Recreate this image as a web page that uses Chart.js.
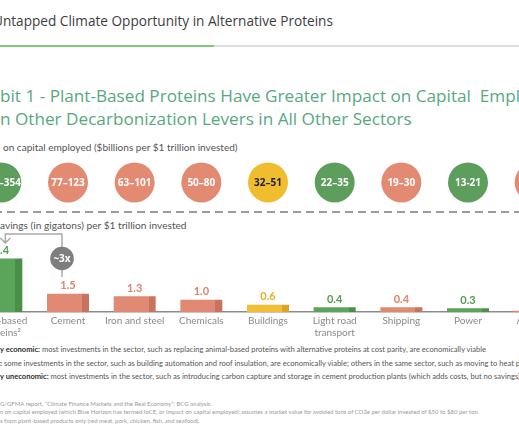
<!DOCTYPE html>
<html><head><meta charset="utf-8">
<script src="https://cdn.jsdelivr.net/npm/chart.js@4.4.1/dist/chart.umd.min.js"></script>
<style>
html,body{margin:0;padding:0;width:519px;height:433px;overflow:hidden;background:#fff;}
body{position:relative;font-family:"Lato",sans-serif;}
.t{position:absolute;white-space:nowrap;line-height:1;}
#hdr{font-family:"Open Sans",sans-serif;font-size:15px;color:#3d3d3d;}
#rule1{position:absolute;left:0;top:45px;width:214px;height:2px;background:#7dcc73;}
#rule2{position:absolute;left:214px;top:45px;width:305px;height:2px;background:#dedede;}
.ti{font-family:"Open Sans",sans-serif;font-size:20px;color:#58a87f;}
.sub{font-size:11px;color:#555;}
.lg{font-size:8px;color:#555;}
.lg b{color:#2e2e2e;}
.fn{font-size:6px;color:#9a9a9a;}
#wrap{position:absolute;left:-32px;top:150px;width:600px;height:190px;}
</style></head>
<body>
<div class="t" id="hdr" data-x="-7" data-cy="21" data-w="340">Untapped Climate Opportunity in Alternative Proteins</div>
<div id="rule1"></div><div id="rule2"></div>
<div class="t ti" id="ti1" data-x="0" data-cy="96" data-same="ti2">bit 1 - Plant-Based Proteins Have Greater Impact on Capital&nbsp; Employed</div>
<div class="t ti" id="ti2" data-x="0" data-cy="119" data-w="412">n Other Decarbonization Levers in All Other Sectors</div>
<div class="t sub" id="s1" data-x="3" data-cy="147" data-w="235">on capital employed ($billions per $1 trillion invested)</div>
<div class="t sub" id="s2" data-x="0" data-cy="225" data-w="187">avings (in gigatons) per $1 trillion invested</div>
<div id="wrap"><canvas id="c" width="600" height="190"></canvas></div>
<div class="t lg" id="l1" data-x="0" data-cy="350" data-w="487"><b>y economic:</b> most investments in the sector, such as replacing animal-based proteins with alternative proteins at cost parity, are economically viable</div>
<div class="t lg" id="l2" data-x="0" data-cy="363.3" data-same="l1"><b>:</b> some investments in the sector, such as building automation and roof insulation, are economically viable; others in the same sector, such as moving to heat pumps, are not</div>
<div class="t lg" id="l3" data-x="0" data-cy="376.7" data-same="l1"><b>y uneconomic:</b> most investments in the sector, such as introducing carbon capture and storage in cement production plants (which adds costs, but no savings), are not</div>
<div class="t fn" id="f1" data-x="0" data-cy="404" data-same="f2">G/GFMA report, “Climate Finance Markets and the Real Economy”; BCG analysis.</div>
<div class="t fn" id="f2" data-x="0" data-cy="412.3" data-w="480">n on capital employed (which Blue Horizon has termed IoCE, or impact on capital employed) assumes a market value for avoided tons of CO2e per dollar invested of $50 to $80 per ton.</div>
<div class="t fn" id="f3" data-x="0" data-cy="420.5" data-same="f2">s from plant-based products only (red meat, pork, chicken, fish, and seafood).</div>
<script>
// ---- data ----
const categories = [["Plant-based","proteins²"],"Cement","Iron and steel","Chemicals","Buildings",["Light road","transport"],"Shipping","Power","Aviation"];
const savings = [4.4, 1.5, 1.3, 1.0, 0.6, 0.4, 0.4, 0.3, 0.1];
const returnRanges = ["221–354","77–123","63–101","50–80","32–51","22–35","19–30","13-21","8–13"];
const viability = ["economic","uneconomic","uneconomic","uneconomic","mixed","economic","uneconomic","economic","uneconomic"];
const multipleLabel = "~3x";

// ---- styles ----
const COL = {
  economic:  {fill:'#5ba55a', dark:'#4a8f4a', text:'#4f9d4e', circle:'#5e9e5c', label:'#ffffff'},
  uneconomic:{fill:'#e08a73', dark:'#c8735e', text:'#e0836a', circle:'#e38a72', label:'#ffffff'},
  mixed:     {fill:'#f2be36', dark:'#d8a42a', text:'#e6ae25', circle:'#f0bd2f', label:'#222222'}
};
const CIRCLE_ROW = 0.8;
const BAR_PCT = 0.63;

// ---- text fitting ----
function place(el){
  const x = parseFloat(el.dataset.x||0);
  el.style.left = x+'px';
  if (el.dataset.w){
    const fs = parseFloat(getComputedStyle(el).fontSize);
    const w = el.getBoundingClientRect().width;
    el.style.fontSize = (fs*parseFloat(el.dataset.w)/w)+'px';
  }
}
const els=[...document.querySelectorAll('.t')];
els.forEach(el=>{ if(el.dataset.w) place(el); });
els.forEach(el=>{ if(el.dataset.same){ el.style.fontSize=document.getElementById(el.dataset.same).style.fontSize; place(el);} else if(!el.dataset.w) place(el); });
els.forEach(el=>{ const h=el.getBoundingClientRect().height; el.style.top=(parseFloat(el.dataset.cy)-h/2)+'px'; });

// ---- chart ----
function barFill(ctx){
  const chart = ctx.chart, sx = chart.scales.x;
  const c = COL[viability[ctx.dataIndex]];
  if (!sx || !chart.chartArea) return c.fill;
  const cx = sx.getPixelForValue(ctx.dataIndex);
  const w = sx.width/categories.length*BAR_PCT;
  const g = chart.ctx.createLinearGradient(cx-w/2,0,cx+w/2,0);
  g.addColorStop(0,c.fill); g.addColorStop(0.83,c.fill);
  g.addColorStop(0.83,c.dark); g.addColorStop(1,c.dark);
  return g;
}

const decor = {
  id:'decor',
  afterDatasetsDraw(chart){
    const {ctx, chartArea} = chart;
    const bars = chart.getDatasetMeta(0).data;
    const pts = chart.getDatasetMeta(1).data;
    ctx.save();
    // dashed separator
    ctx.setLineDash([8,5]); ctx.strokeStyle='#9c9c9c'; ctx.lineWidth=2;
    ctx.beginPath(); ctx.moveTo(0,chartArea.top+62); ctx.lineTo(chart.width,chartArea.top+62); ctx.stroke();
    ctx.setLineDash([]);
    // circle labels
    ctx.textAlign='center'; ctx.textBaseline='middle';
    ctx.font='bold 10px "Open Sans", sans-serif';
    pts.forEach((p,i)=>{ ctx.fillStyle=COL[viability[i]].label; ctx.fillText(returnRanges[i], p.x, p.y+0.5); });
    // bar value labels
    ctx.font='bold 11px "Lato", sans-serif';
    bars.forEach((b,i)=>{ ctx.fillStyle=COL[viability[i]].text; ctx.fillText(savings[i].toFixed(1), b.x, b.y-8); });
    // bracket
    const b0=bars[0], b1=bars[1];
    const ax=b0.x+4, vx=b1.x-6, yH=chartArea.top+84;
    ctx.strokeStyle='#a9a9a9'; ctx.lineWidth=1.5;
    ctx.beginPath();
    ctx.moveTo(ax,yH+9); ctx.lineTo(ax,yH); ctx.lineTo(vx,yH); ctx.lineTo(vx,yH+13);
    ctx.moveTo(vx,yH+36); ctx.lineTo(vx,yH+43);
    ctx.moveTo(ax-5,yH+4); ctx.lineTo(ax,yH+9); ctx.lineTo(ax+5,yH+4);
    ctx.stroke();
    ctx.fillStyle='#7e7e7e';
    ctx.beginPath(); ctx.arc(vx,yH+24.5,11.8,0,Math.PI*2); ctx.fill();
    ctx.fillStyle='#fff'; ctx.font='bold 10px "Open Sans", sans-serif';
    ctx.fillText(multipleLabel, vx, yH+25);
    ctx.restore();
  }
};

new Chart(document.getElementById('c'), {
  data:{
    labels: categories,
    datasets:[
      {type:'bar', data:savings, yAxisID:'y', backgroundColor:barFill, barPercentage:BAR_PCT, categoryPercentage:1, borderWidth:0},
      {type:'line', data:returnRanges.map(()=>CIRCLE_ROW), yAxisID:'y2', showLine:false, clip:false,
        pointRadius:20, pointHoverRadius:20, pointBorderWidth:0,
        pointBackgroundColor:viability.map(v=>COL[v].circle), pointBorderColor:viability.map(v=>COL[v].circle)}
    ]
  },
  options:{
    responsive:false, animation:false, events:[],
    layout:{padding:0, autoPadding:false},
    plugins:{legend:{display:false}, tooltip:{enabled:false}},
    scales:{
      x:{grid:{display:false, drawTicks:false}, border:{display:true, color:'#8c8c8c', width:1.5},
         ticks:{color:'#8a8a8a', font:{family:'Lato', size:10, lineHeight:1.2}, padding:3, maxRotation:0, autoSkip:false},
         afterFit(s){ s.height=28; }},
      y:{display:false, min:0, max:13.3},
      y2:{display:false, min:0, max:1}
    }
  },
  plugins:[decor]
});
</script>
</body></html>
